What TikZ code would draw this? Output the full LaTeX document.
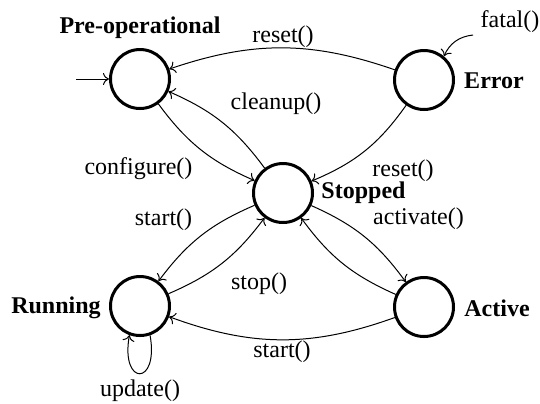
\documentclass[tikz,border=0pt]{standalone}
\usepackage{fontspec}
\setmainfont{Liberation Serif}
\newfontfamily\tmsfont{Liberation Serif}
\usetikzlibrary{arrows.meta}
\begin{document}
\begin{tikzpicture}[x=0.5pt,y=-0.5pt,
  state/.style={circle,draw,line width=1.5pt,minimum size=29.5pt,inner sep=0pt},
  slabel/.style={font=\tmsfont\fontsize{12}{14}\selectfont\bfseries,inner sep=0pt},
  elabel/.style={font=\tmsfont\fontsize{12}{14}\selectfont,inner sep=0pt},
  trans/.style={line width=0.5pt,-{To[length=3pt,width=6pt]}}]
\useasboundingbox (0,0) rectangle (540,403);
\node[state] (pre) at (140,79) {};
\node[state] (err) at (424,80) {};
\node[state] (stp) at (283,193) {};
\node[state] (run) at (140,306) {};
\node[state] (act) at (424,307) {};
\node[slabel] (lpre) at (140,27.5) {Pre-operational};
\node[slabel] (lerr) at (494,80.5) {Error};
\node[slabel] (lstp) at (363.5,192.5) {Stopped};
\node[slabel] (lrun) at (56,307.5) {Running};
\node[slabel] (lact) at (497,308) {Active};
\node[elabel] (l1) at (283,36.5) {reset()};
\node[elabel] (l2) at (510,21.5) {fatal()};
\node[elabel] (l3) at (276,103.5) {cleanup()};
\node[elabel] (l4) at (138.5,168.5) {configure()};
\node[elabel] (l5) at (403,170.5) {reset()};
\node[elabel] (l6) at (163.5,220) {start()};
\node[elabel] (l7) at (418.5,218.5) {activate()};
\node[elabel] (l8) at (259,283.5) {stop()};
\node[elabel] (l9) at (282,351.5) {start()};
\node[elabel] (l10) at (140,391) {update()};
\coordinate (init) at (76,79);
\coordinate (fat) at (473,35);
\draw[trans] (init) -- (pre);
\draw[trans] (fat) to[bend right=30] (err.50);
\draw[trans] (err) to[bend right=19] (pre);
\draw[trans] (err) to[bend left=16] (stp);
\draw[trans] (pre) to[bend right=15] (stp);
\draw[trans] (stp) to[bend right=15] (pre);
\draw[trans] (stp) to[bend right=15] (run);
\draw[trans] (run) to[bend right=15] (stp);
\draw[trans] (stp) to[bend left=15] (act);
\draw[trans] (act) to[bend left=15] (stp);
\draw[trans] (act) to[bend left=20] (run);
\draw[trans] (run.-71) .. controls +(-80:26pt) and +(-100:26pt) .. (run.-110);
\end{tikzpicture}
\end{document}
